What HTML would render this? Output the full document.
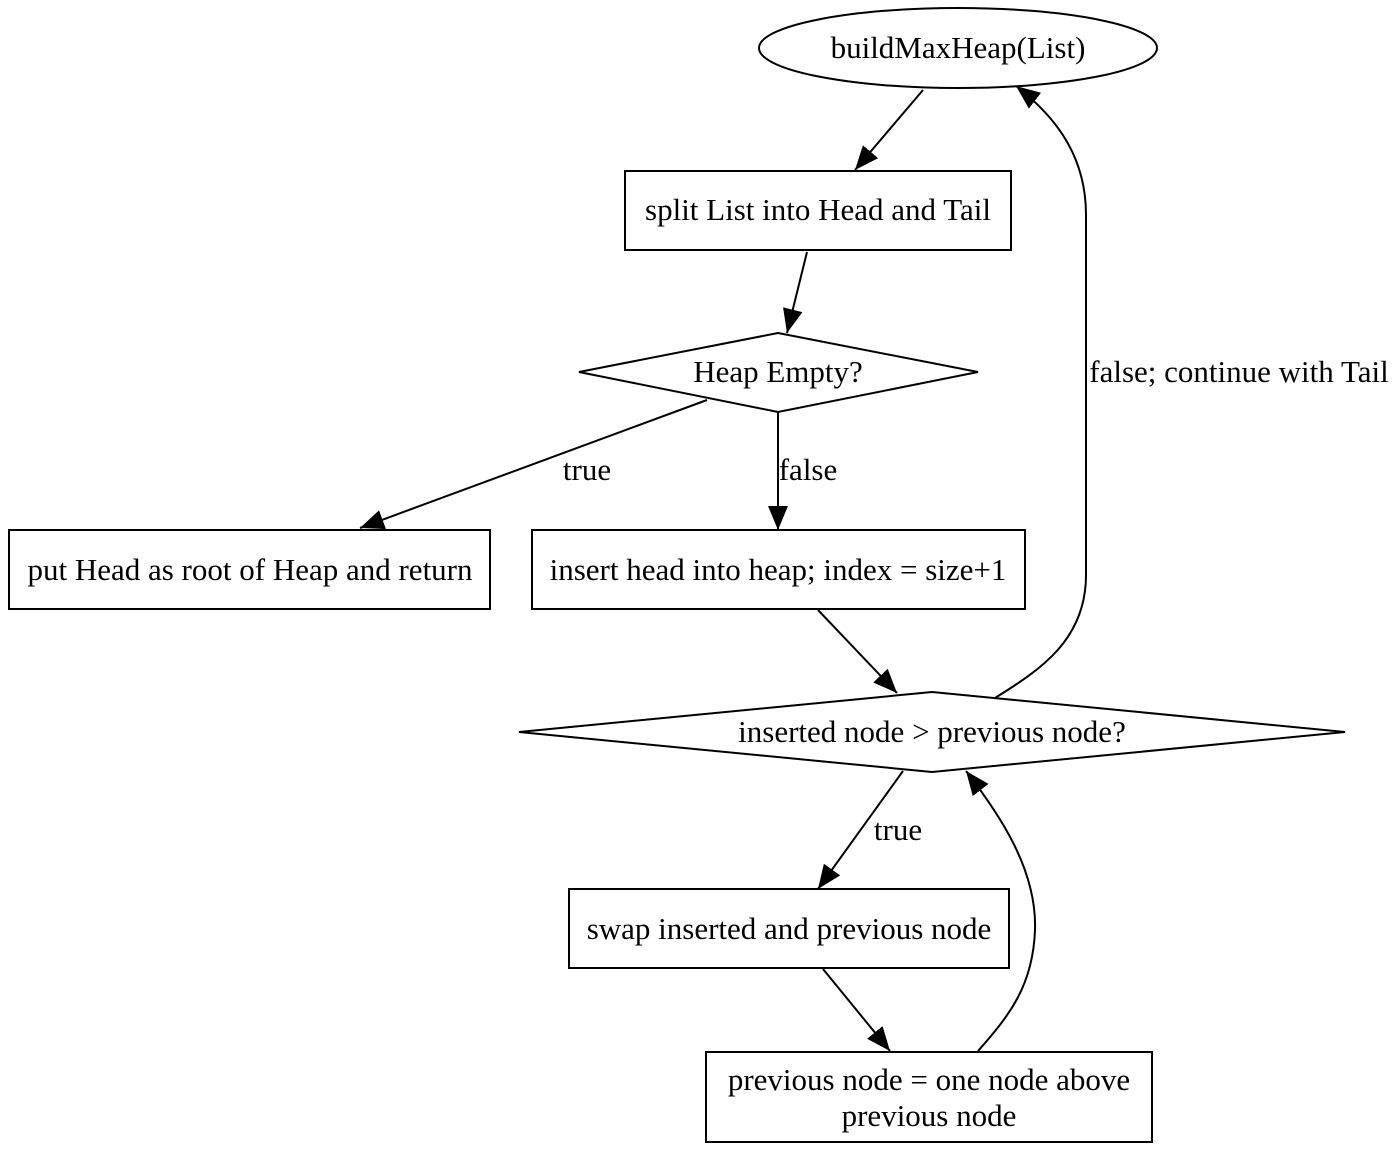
<!DOCTYPE html>
<html><head><meta charset="utf-8"><style>html,body{margin:0;padding:0;background:#fff}svg{display:block}</style></head>
<body>
<svg width="1400" height="1153" viewBox="0 0 1400 1153" xmlns="http://www.w3.org/2000/svg" font-family="Liberation Serif, serif" font-size="31">
<defs>
<marker id="a" markerUnits="userSpaceOnUse" markerWidth="26" markerHeight="20" refX="24" refY="10" orient="auto">
<path d="M0,0 L24,10 L0,20 Z" fill="#000"/>
</marker>
</defs>
<g fill="none" stroke="#000" stroke-width="2">
<ellipse cx="958" cy="48" rx="199" ry="40"/>
<rect x="625" y="171" width="386" height="79"/>
<polygon points="778,333 978,372 778,412 579,372"/>
<rect x="9" y="530" width="481" height="79"/>
<rect x="532" y="530" width="493" height="79"/>
<polygon points="932,692 1345,732 932,772 519,732"/>
<rect x="569" y="889" width="440" height="79"/>
<rect x="706" y="1052" width="446" height="90"/>
<path d="M923,90 L855,170" marker-end="url(#a)"/>
<path d="M807,252 L787,333" marker-end="url(#a)"/>
<path d="M707,400 L360,528" marker-end="url(#a)"/>
<path d="M778,412 L778,530" marker-end="url(#a)"/>
<path d="M818,610 L897,693" marker-end="url(#a)"/>
<path d="M995,698 C1040,670 1086,640 1086,575 L1086,215 C1086,160 1060,120 1016,86" marker-end="url(#a)"/>
<path d="M903,771 L818,889" marker-end="url(#a)"/>
<path d="M823,969 L890,1051" marker-end="url(#a)"/>
<path d="M978,1051 C1010,1015 1033,985 1035,930 C1037,870 1000,815 966,771" marker-end="url(#a)"/>
</g>
<g fill="#000" text-anchor="middle">
<text x="958" y="58">buildMaxHeap(List)</text>
<text x="818" y="220">split List into Head and Tail</text>
<text x="778" y="382">Heap Empty?</text>
<text x="587" y="480">true</text>
<text x="808" y="480">false</text>
<text x="250" y="580">put Head as root of Heap and return</text>
<text x="778" y="580">insert head into heap; index = size+1</text>
<text x="1239" y="382">false; continue with Tail</text>
<text x="932" y="742">inserted node &gt; previous node?</text>
<text x="898" y="840">true</text>
<text x="789" y="939">swap inserted and previous node</text>
<text x="929" y="1090">previous node = one node above</text>
<text x="929" y="1126">previous node</text>
</g>
</svg>
</body></html>
